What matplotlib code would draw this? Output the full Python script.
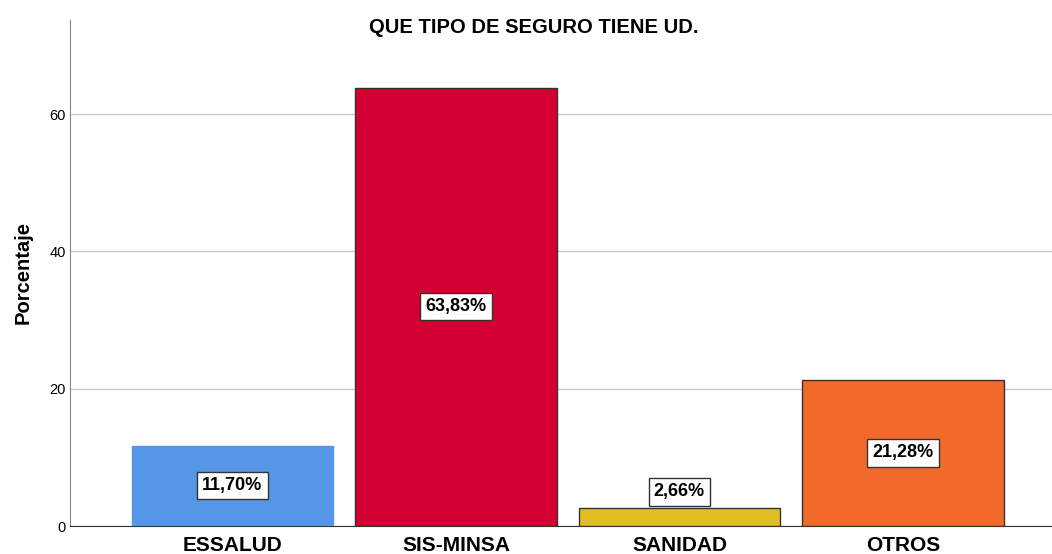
import matplotlib.pyplot as plt

plt.rcParams['font.family'] = ['Liberation Sans', 'DejaVu Sans']

categories = ['ESSALUD', 'SIS-MINSA', 'SANIDAD', 'OTROS']
percentages = [11.70, 63.83, 2.66, 21.28]
labels = ['11,70%', '63,83%', '2,66%', '21,28%']
colors = ['#5596E6', '#D50032', '#E1BE22', '#F2692C']
edges = ['#5596E6', '#333333', '#333333', '#333333']

fig = plt.figure(figsize=(10.52, 5.54), dpi=100)
ax = fig.add_axes([0.0665, 0.0505, 0.9335, 0.9135])

x = list(range(len(categories)))
ax.bar(x, percentages, width=0.9, color=colors, edgecolor=edges, linewidth=1, zorder=3)

# etiquetas de porcentaje
for xi, v, lab in zip(x, percentages, labels):
    y = v / 2 if v > 8 else v + 2.3
    ax.text(xi, y, lab, ha='center', va='center', fontsize=13, fontweight='bold',
            zorder=4, bbox=dict(boxstyle='square,pad=0.28', fc='white', ec='#333333', lw=1))

ax.set_xlim(-0.727, 3.667)
ax.set_ylim(0, 73.7)
ax.set_yticks([0, 20, 40, 60])
ax.set_xticks(x)
ax.set_xticklabels(categories, fontsize=15, fontweight='bold')
ax.tick_params(axis='x', length=0, pad=7)
ax.tick_params(axis='y', labelsize=10.5, length=0, pad=3)
ax.grid(axis='y', color='#cccccc', linewidth=1, zorder=0)

for s in ['top', 'right']:
    ax.spines[s].set_visible(False)
ax.spines['left'].set_color('#888888')
ax.spines['bottom'].set_color('#333333')

ax.set_ylabel('Porcentaje', fontsize=14.5, fontweight='bold', labelpad=12)
fig.text(0.507, 0.951, 'QUE TIPO DE SEGURO TIENE UD.', ha='center', va='center',
         fontsize=14.5, fontweight='bold')

plt.savefig('out.png', dpi=100)
